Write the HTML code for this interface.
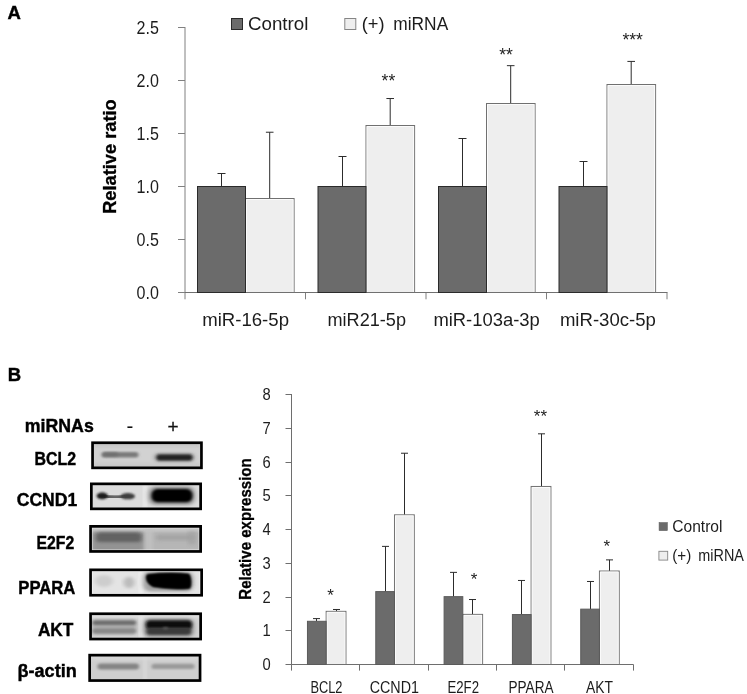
<!DOCTYPE html>
<html><head><meta charset="utf-8"><title>Figure</title>
<style>
html,body{margin:0;padding:0;background:#fff;}
body{width:747px;height:694px;overflow:hidden;font-family:"Liberation Sans",sans-serif;}
#wrap{width:747px;height:694px;filter:grayscale(1);}
svg{display:block;}
svg text{font-family:"Liberation Sans",sans-serif;}
</style></head><body>
<div id="wrap">
<svg width="747" height="694" viewBox="0 0 747 694">
<rect width="747" height="694" fill="#fff"/>
<g stroke="#808080" stroke-width="1" fill="none">
<line x1="185.0" y1="27.0" x2="185.0" y2="299.3"/>
<line x1="178" y1="292.50" x2="185.0" y2="292.50"/>
<line x1="178" y1="239.50" x2="185.0" y2="239.50"/>
<line x1="178" y1="186.50" x2="185.0" y2="186.50"/>
<line x1="178" y1="133.50" x2="185.0" y2="133.50"/>
<line x1="178" y1="80.50" x2="185.0" y2="80.50"/>
<line x1="178" y1="27.50" x2="185.0" y2="27.50"/>
<line x1="305.5" y1="292.5" x2="305.5" y2="299.3"/>
<line x1="426.0" y1="292.5" x2="426.0" y2="299.3"/>
<line x1="546.5" y1="292.5" x2="546.5" y2="299.3"/>
<line x1="667.0" y1="292.5" x2="667.0" y2="299.3"/>
</g>
<line x1="185.0" y1="292.5" x2="667.5" y2="292.5" stroke="#707070" stroke-width="1"/>
<text x="158.9" y="298.6" font-size="17.5" text-anchor="end" font-weight="normal" fill="#1c1c1c" textLength="22.3" lengthAdjust="spacingAndGlyphs" >0.0</text>
<text x="158.9" y="245.6" font-size="17.5" text-anchor="end" font-weight="normal" fill="#1c1c1c" textLength="22.3" lengthAdjust="spacingAndGlyphs" >0.5</text>
<text x="158.9" y="192.6" font-size="17.5" text-anchor="end" font-weight="normal" fill="#1c1c1c" textLength="22.3" lengthAdjust="spacingAndGlyphs" >1.0</text>
<text x="158.9" y="139.6" font-size="17.5" text-anchor="end" font-weight="normal" fill="#1c1c1c" textLength="22.3" lengthAdjust="spacingAndGlyphs" >1.5</text>
<text x="158.9" y="86.6" font-size="17.5" text-anchor="end" font-weight="normal" fill="#1c1c1c" textLength="22.3" lengthAdjust="spacingAndGlyphs" >2.0</text>
<text x="158.9" y="33.6" font-size="17.5" text-anchor="end" font-weight="normal" fill="#1c1c1c" textLength="22.3" lengthAdjust="spacingAndGlyphs" >2.5</text>
<path d="M221.50 186.50V173.50M217.50 173.50H225.50" stroke="#2c2c2c" stroke-width="1" fill="none"/>
<path d="M269.70 198.48V132.23M265.90 132.23H273.50" stroke="#2c2c2c" stroke-width="1" fill="none"/>
<rect x="245.50" y="198.50" width="48.60" height="94.00" fill="#eeeeee" stroke="#707070" stroke-width="1"/>
<path d="M246.50 292.00V199.50H293.10V292.00" fill="none" stroke="#fff" stroke-opacity="0.75" stroke-width="1"/>
<rect x="197.50" y="186.50" width="48.00" height="106.00" fill="#6b6b6b" stroke="#2a2a2a" stroke-width="1"/>
<path d="M342.50 186.50V156.50M338.50 156.50H346.50" stroke="#2c2c2c" stroke-width="1" fill="none"/>
<path d="M390.20 125.55V98.52M386.40 98.52H394.00" stroke="#2c2c2c" stroke-width="1" fill="none"/>
<rect x="366.00" y="125.50" width="48.60" height="167.00" fill="#eeeeee" stroke="#707070" stroke-width="1"/>
<path d="M367.00 292.00V126.50H413.60V292.00" fill="none" stroke="#fff" stroke-opacity="0.75" stroke-width="1"/>
<rect x="318.00" y="186.50" width="48.00" height="106.00" fill="#6b6b6b" stroke="#2a2a2a" stroke-width="1"/>
<path d="M462.50 186.50V138.50M458.50 138.50H466.50" stroke="#2c2c2c" stroke-width="1" fill="none"/>
<path d="M510.70 103.50V65.66M506.90 65.66H514.50" stroke="#2c2c2c" stroke-width="1" fill="none"/>
<rect x="486.50" y="103.50" width="48.60" height="189.00" fill="#eeeeee" stroke="#707070" stroke-width="1"/>
<path d="M487.50 292.00V104.50H534.10V292.00" fill="none" stroke="#fff" stroke-opacity="0.75" stroke-width="1"/>
<rect x="438.50" y="186.50" width="48.00" height="106.00" fill="#6b6b6b" stroke="#2a2a2a" stroke-width="1"/>
<path d="M583.50 186.50V161.50M579.50 161.50H587.50" stroke="#2c2c2c" stroke-width="1" fill="none"/>
<path d="M631.20 84.21V61.42M627.40 61.42H635.00" stroke="#2c2c2c" stroke-width="1" fill="none"/>
<rect x="607.00" y="84.50" width="48.60" height="208.00" fill="#eeeeee" stroke="#707070" stroke-width="1"/>
<path d="M608.00 292.00V85.50H654.60V292.00" fill="none" stroke="#fff" stroke-opacity="0.75" stroke-width="1"/>
<rect x="559.00" y="186.50" width="48.00" height="106.00" fill="#6b6b6b" stroke="#2a2a2a" stroke-width="1"/>
<text x="202.2" y="325.6" font-size="17.5" text-anchor="start" font-weight="normal" fill="#1c1c1c" textLength="86.8" lengthAdjust="spacingAndGlyphs" >miR-16-5p</text>
<text x="327.5" y="325.6" font-size="17.5" text-anchor="start" font-weight="normal" fill="#1c1c1c" textLength="78.5" lengthAdjust="spacingAndGlyphs" >miR21-5p</text>
<text x="433.4" y="325.6" font-size="17.5" text-anchor="start" font-weight="normal" fill="#1c1c1c" textLength="106.4" lengthAdjust="spacingAndGlyphs" >miR-103a-3p</text>
<text x="559.9" y="325.6" font-size="17.5" text-anchor="start" font-weight="normal" fill="#1c1c1c" textLength="96.0" lengthAdjust="spacingAndGlyphs" >miR-30c-5p</text>
<rect x="231.5" y="18.5" width="11" height="11" fill="#6b6b6b" stroke="#2a2a2a" stroke-width="1"/>
<text x="248" y="30.3" font-size="18" text-anchor="start" font-weight="normal" fill="#1c1c1c" textLength="60.4" lengthAdjust="spacingAndGlyphs" >Control</text>
<rect x="344.8" y="18.5" width="11" height="11" fill="#eeeeee" stroke="#858585" stroke-width="1"/>
<text x="361.8" y="30.3" font-size="18" text-anchor="start" font-weight="normal" fill="#1c1c1c" textLength="22.8" lengthAdjust="spacingAndGlyphs" >(+)</text>
<text x="393.3" y="30.3" font-size="18" text-anchor="start" font-weight="normal" fill="#1c1c1c" textLength="54.9" lengthAdjust="spacingAndGlyphs" >miRNA</text>
<text x="388.4" y="87.12" font-size="17.5" text-anchor="middle" font-weight="normal" fill="#222" >**</text>
<text x="506" y="61.42" font-size="17.5" text-anchor="middle" font-weight="normal" fill="#222" >**</text>
<text x="632.6" y="46.23" font-size="17.5" text-anchor="middle" font-weight="normal" fill="#222" >***</text>
<text x="7.6" y="18.9" font-size="18.5" text-anchor="start" font-weight="bold" fill="#000" stroke="#000" stroke-width="0.4">A</text>
<text x="7.8" y="381.3" font-size="18.5" text-anchor="start" font-weight="bold" fill="#000" stroke="#000" stroke-width="0.4">B</text>
<text transform="translate(116.4,156.6) rotate(-90)" font-size="17.5" font-weight="bold" text-anchor="middle" fill="#000" stroke="#000" stroke-width="0.3" textLength="114.5" lengthAdjust="spacingAndGlyphs">Relative ratio</text>
<g stroke="#6e6e6e" stroke-width="1" fill="none">
<line x1="291.5" y1="394.0" x2="291.5" y2="670.6"/>
<line x1="291.5" y1="664.5" x2="633.5" y2="664.5"/>
<line x1="285.5" y1="664.50" x2="291.5" y2="664.50"/>
<line x1="285.5" y1="630.50" x2="291.5" y2="630.50"/>
<line x1="285.5" y1="597.50" x2="291.5" y2="597.50"/>
<line x1="285.5" y1="563.50" x2="291.5" y2="563.50"/>
<line x1="285.5" y1="529.50" x2="291.5" y2="529.50"/>
<line x1="285.5" y1="495.50" x2="291.5" y2="495.50"/>
<line x1="285.5" y1="462.50" x2="291.5" y2="462.50"/>
<line x1="285.5" y1="428.50" x2="291.5" y2="428.50"/>
<line x1="285.5" y1="394.50" x2="291.5" y2="394.50"/>
<line x1="359.50" y1="664.5" x2="359.50" y2="670.6"/>
<line x1="428.50" y1="664.5" x2="428.50" y2="670.6"/>
<line x1="496.50" y1="664.5" x2="496.50" y2="670.6"/>
<line x1="564.50" y1="664.5" x2="564.50" y2="670.6"/>
<line x1="633.50" y1="664.5" x2="633.50" y2="670.6"/>
</g>
<text x="270.8" y="670.1" font-size="16" text-anchor="end" font-weight="normal" fill="#1c1c1c" textLength="8.2" lengthAdjust="spacingAndGlyphs" >0</text>
<text x="270.8" y="636.35" font-size="16" text-anchor="end" font-weight="normal" fill="#1c1c1c" textLength="8.2" lengthAdjust="spacingAndGlyphs" >1</text>
<text x="270.8" y="602.6" font-size="16" text-anchor="end" font-weight="normal" fill="#1c1c1c" textLength="8.2" lengthAdjust="spacingAndGlyphs" >2</text>
<text x="270.8" y="568.85" font-size="16" text-anchor="end" font-weight="normal" fill="#1c1c1c" textLength="8.2" lengthAdjust="spacingAndGlyphs" >3</text>
<text x="270.8" y="535.1" font-size="16" text-anchor="end" font-weight="normal" fill="#1c1c1c" textLength="8.2" lengthAdjust="spacingAndGlyphs" >4</text>
<text x="270.8" y="501.35" font-size="16" text-anchor="end" font-weight="normal" fill="#1c1c1c" textLength="8.2" lengthAdjust="spacingAndGlyphs" >5</text>
<text x="270.8" y="467.6" font-size="16" text-anchor="end" font-weight="normal" fill="#1c1c1c" textLength="8.2" lengthAdjust="spacingAndGlyphs" >6</text>
<text x="270.8" y="433.85" font-size="16" text-anchor="end" font-weight="normal" fill="#1c1c1c" textLength="8.2" lengthAdjust="spacingAndGlyphs" >7</text>
<text x="270.8" y="400.1" font-size="16" text-anchor="end" font-weight="normal" fill="#1c1c1c" textLength="8.2" lengthAdjust="spacingAndGlyphs" >8</text>
<path d="M316.50 621.30V618.60M313.00 618.60H320.00" stroke="#2c2c2c" stroke-width="1" fill="none"/>
<path d="M336.50 611.34V609.49M333.00 609.49H340.00" stroke="#2c2c2c" stroke-width="1" fill="none"/>
<rect x="326.16" y="611.34" width="19.80" height="53.16" fill="#eeeeee" stroke="#707070" stroke-width="1"/>
<path d="M327.16 664.00V612.34H344.96V664.00" fill="none" stroke="#fff" stroke-opacity="0.75" stroke-width="1"/>
<rect x="307.46" y="621.30" width="18.70" height="43.20" fill="#6b6b6b" stroke="#5a5a5a" stroke-width="1"/>
<path d="M385.50 591.60V546.38M382.00 546.38H389.00" stroke="#2c2c2c" stroke-width="1" fill="none"/>
<path d="M404.50 514.82V453.23M401.00 453.23H408.00" stroke="#2c2c2c" stroke-width="1" fill="none"/>
<rect x="394.48" y="514.82" width="19.80" height="149.68" fill="#eeeeee" stroke="#707070" stroke-width="1"/>
<path d="M395.48 664.00V515.82H413.28V664.00" fill="none" stroke="#fff" stroke-opacity="0.75" stroke-width="1"/>
<rect x="375.78" y="591.60" width="18.70" height="72.90" fill="#6b6b6b" stroke="#5a5a5a" stroke-width="1"/>
<path d="M453.50 596.66V572.36M450.00 572.36H457.00" stroke="#2c2c2c" stroke-width="1" fill="none"/>
<path d="M472.50 614.38V599.53M469.00 599.53H476.00" stroke="#2c2c2c" stroke-width="1" fill="none"/>
<rect x="462.80" y="614.38" width="19.80" height="50.12" fill="#eeeeee" stroke="#707070" stroke-width="1"/>
<path d="M463.80 664.00V615.38H481.60V664.00" fill="none" stroke="#fff" stroke-opacity="0.75" stroke-width="1"/>
<rect x="444.10" y="596.66" width="18.70" height="67.84" fill="#6b6b6b" stroke="#5a5a5a" stroke-width="1"/>
<path d="M521.50 614.55V580.46M518.00 580.46H525.00" stroke="#2c2c2c" stroke-width="1" fill="none"/>
<path d="M541.50 486.47V433.82M538.00 433.82H545.00" stroke="#2c2c2c" stroke-width="1" fill="none"/>
<rect x="531.12" y="486.47" width="19.80" height="178.03" fill="#eeeeee" stroke="#707070" stroke-width="1"/>
<path d="M532.12 664.00V487.47H549.92V664.00" fill="none" stroke="#fff" stroke-opacity="0.75" stroke-width="1"/>
<rect x="512.42" y="614.55" width="18.70" height="49.95" fill="#6b6b6b" stroke="#5a5a5a" stroke-width="1"/>
<path d="M590.50 609.15V581.48M587.00 581.48H594.00" stroke="#2c2c2c" stroke-width="1" fill="none"/>
<path d="M609.50 571.01V559.88M606.00 559.88H613.00" stroke="#2c2c2c" stroke-width="1" fill="none"/>
<rect x="599.44" y="571.01" width="19.80" height="93.49" fill="#eeeeee" stroke="#707070" stroke-width="1"/>
<path d="M600.44 664.00V572.01H618.24V664.00" fill="none" stroke="#fff" stroke-opacity="0.75" stroke-width="1"/>
<rect x="580.74" y="609.15" width="18.70" height="55.35" fill="#6b6b6b" stroke="#5a5a5a" stroke-width="1"/>
<text x="310.4" y="692.8" font-size="16.5" text-anchor="start" font-weight="normal" fill="#1c1c1c" textLength="32.1" lengthAdjust="spacingAndGlyphs" >BCL2</text>
<text x="369.7" y="692.8" font-size="16.5" text-anchor="start" font-weight="normal" fill="#1c1c1c" textLength="49.3" lengthAdjust="spacingAndGlyphs" >CCND1</text>
<text x="447.5" y="692.8" font-size="16.5" text-anchor="start" font-weight="normal" fill="#1c1c1c" textLength="31.5" lengthAdjust="spacingAndGlyphs" >E2F2</text>
<text x="508.5" y="692.8" font-size="16.5" text-anchor="start" font-weight="normal" fill="#1c1c1c" textLength="45.0" lengthAdjust="spacingAndGlyphs" >PPARA</text>
<text x="586" y="692.8" font-size="16.5" text-anchor="start" font-weight="normal" fill="#1c1c1c" textLength="27" lengthAdjust="spacingAndGlyphs" >AKT</text>
<text x="330.5" y="601.31" font-size="17" text-anchor="middle" font-weight="normal" fill="#222" >*</text>
<text x="474" y="584.51" font-size="17" text-anchor="middle" font-weight="normal" fill="#222" >*</text>
<text x="540.4" y="421.61" font-size="17" text-anchor="middle" font-weight="normal" fill="#222" >**</text>
<text x="606.8" y="552.11" font-size="17" text-anchor="middle" font-weight="normal" fill="#222" >*</text>
<rect x="659.1" y="522.6" width="8.2" height="8.0" fill="#6b6b6b" stroke="#606060" stroke-width="0.6"/>
<text x="672.3" y="531.6" font-size="16.5" text-anchor="start" font-weight="normal" fill="#1c1c1c" textLength="50.2" lengthAdjust="spacingAndGlyphs" >Control</text>
<rect x="658.9" y="551.3" width="8.8" height="8.8" fill="#eeeeee" stroke="#858585" stroke-width="0.9"/>
<text x="672.3" y="560.8" font-size="16.5" text-anchor="start" font-weight="normal" fill="#1c1c1c" textLength="19" lengthAdjust="spacingAndGlyphs" >(+)</text>
<text x="698.3" y="560.8" font-size="16.5" text-anchor="start" font-weight="normal" fill="#1c1c1c" textLength="45.6" lengthAdjust="spacingAndGlyphs" >miRNA</text>
<text transform="translate(250.8,529) rotate(-90)" font-size="16" font-weight="bold" text-anchor="middle" fill="#000" stroke="#000" stroke-width="0.3" textLength="141.5" lengthAdjust="spacingAndGlyphs">Relative expression</text>
<text x="24.8" y="432.2" font-size="17.8" text-anchor="start" font-weight="bold" fill="#000" textLength="69" lengthAdjust="spacingAndGlyphs" stroke="#000" stroke-width="0.4">miRNAs</text>
<text x="130" y="432.6" font-size="20.5" text-anchor="middle" font-weight="normal" fill="#111" >-</text>
<text x="173" y="433.1" font-size="19" text-anchor="middle" font-weight="normal" fill="#111" stroke="#111" stroke-width="0.25">+</text>
<text x="34.5" y="464.8" font-size="17.5" text-anchor="start" font-weight="bold" fill="#000" textLength="41.5" lengthAdjust="spacingAndGlyphs" stroke="#000" stroke-width="0.4">BCL2</text>
<text x="16.8" y="506" font-size="17.5" text-anchor="start" font-weight="bold" fill="#000" textLength="60.4" lengthAdjust="spacingAndGlyphs" stroke="#000" stroke-width="0.4">CCND1</text>
<text x="36.5" y="548.7" font-size="17.5" text-anchor="start" font-weight="bold" fill="#000" textLength="37.7" lengthAdjust="spacingAndGlyphs" stroke="#000" stroke-width="0.4">E2F2</text>
<text x="18.3" y="593.9" font-size="17.5" text-anchor="start" font-weight="bold" fill="#000" textLength="57.1" lengthAdjust="spacingAndGlyphs" stroke="#000" stroke-width="0.4">PPARA</text>
<text x="37.9" y="635.8" font-size="17.5" text-anchor="start" font-weight="bold" fill="#000" textLength="35.5" lengthAdjust="spacingAndGlyphs" stroke="#000" stroke-width="0.4">AKT</text>
<text x="17.5" y="676.9" font-size="17.5" text-anchor="start" font-weight="bold" fill="#000" textLength="59.2" lengthAdjust="spacingAndGlyphs" stroke="#000" stroke-width="0.4">β-actin</text>
<defs>
<filter id="b0" x="-20%" y="-60%" width="140%" height="220%"><feGaussianBlur stdDeviation="1.0 0.9"/></filter>
<filter id="b1" x="-20%" y="-60%" width="140%" height="220%"><feGaussianBlur stdDeviation="1.5 1.2"/></filter>
<filter id="b2" x="-20%" y="-60%" width="140%" height="220%"><feGaussianBlur stdDeviation="2.2 1.6"/></filter>
<filter id="b3" x="-30%" y="-80%" width="160%" height="260%"><feGaussianBlur stdDeviation="3 2.4"/></filter>
<filter id="bb" x="-5%" y="-10%" width="110%" height="120%"><feGaussianBlur stdDeviation="0.45"/></filter>
</defs>
<clipPath id="c_bcl2"><rect x="93.30" y="443.50" width="107.40" height="23.60"/></clipPath>
<rect x="93.30" y="443.50" width="107.40" height="23.60" fill="#d2d2d2"/>
<g clip-path="url(#c_bcl2)">
<rect x="93" y="443" width="108.00" height="4.00" rx="0" fill="#c4c4c4" opacity="0.8" filter="url(#b2)"/>
<rect x="93" y="463" width="108.00" height="5.00" rx="0" fill="#c6c6c6" opacity="0.8" filter="url(#b2)"/>
<rect x="101.5" y="452.0" width="37.00" height="5.60" rx="2.8" fill="#7a7a7a" opacity="1" filter="url(#b1)"/>
<rect x="103" y="452.2" width="15.00" height="4.30" rx="2" fill="#6c6c6c" opacity="0.7" filter="url(#b1)"/>
<rect x="154.5" y="453.2" width="39.50" height="8.40" rx="4" fill="#6a6a6a" opacity="0.55" filter="url(#b2)"/>
<rect x="156.5" y="454.6" width="36.00" height="5.80" rx="2.9" fill="#242424" opacity="1" filter="url(#b1)"/>
</g>
<rect x="92.55" y="442.75" width="108.90" height="25.10" fill="none" stroke="#000" stroke-width="2.7" filter="url(#bb)"/>
<clipPath id="c_ccnd1"><rect x="92.10" y="484.60" width="107.80" height="23.50"/></clipPath>
<rect x="92.10" y="484.60" width="107.80" height="23.50" fill="#dcdcdc"/>
<g clip-path="url(#c_ccnd1)">
<rect x="143" y="485" width="4.00" height="23.00" rx="0" fill="#ececec" opacity="0.8" filter="url(#b1)"/>
<path d="M101 496 Q114 498.2 128 496.2" fill="none" opacity="1" filter="url(#b0)" stroke="#484848" stroke-width="3.4" stroke-linecap="round"/>
<ellipse cx="102.2" cy="495.9" rx="5.6" ry="3.4" fill="#1e1e1e" opacity="1" filter="url(#b0)"/>
<ellipse cx="127.8" cy="496.2" rx="7.2" ry="3.1" fill="#3c3c3c" opacity="1" filter="url(#b0)"/>
<rect x="148.5" y="486.5" width="46.50" height="18.50" rx="7" fill="#666" opacity="0.6" filter="url(#b2)"/>
<rect x="151.5" y="489.0" width="41.00" height="13.20" rx="6" fill="#000" opacity="1" filter="url(#b1)"/>
</g>
<rect x="91.35" y="483.85" width="109.30" height="25.00" fill="none" stroke="#000" stroke-width="2.7" filter="url(#bb)"/>
<clipPath id="c_e2f2"><rect x="91.30" y="527.10" width="108.60" height="23.60"/></clipPath>
<rect x="91.30" y="527.10" width="108.60" height="23.60" fill="#b6b6b6"/>
<g clip-path="url(#c_e2f2)">
<rect x="91" y="527" width="110.00" height="4.50" rx="0" fill="#c9c9c9" opacity="0.9" filter="url(#b1)"/>
<rect x="92" y="532" width="52.00" height="20.00" rx="3" fill="#8e8e8e" opacity="0.85" filter="url(#b2)"/>
<rect x="96" y="532.6" width="45.50" height="9.40" rx="3.5" fill="#5e5e5e" opacity="0.95" filter="url(#b2)"/>
<rect x="145" y="527" width="8.00" height="25.00" rx="0" fill="#c2c2c2" opacity="0.8" filter="url(#b2)"/>
<rect x="156" y="534.5" width="39.00" height="6.00" rx="3" fill="#a3a3a3" opacity="0.9" filter="url(#b2)"/>
<rect x="188" y="531" width="8.00" height="14.00" rx="3" fill="#a0a0a0" opacity="0.6" filter="url(#b2)"/>
</g>
<rect x="92.20" y="528.00" width="106.80" height="21.80" fill="none" stroke="#fff" stroke-opacity="0.55" stroke-width="0.9" filter="url(#bb)"/>
<rect x="90.55" y="526.35" width="110.10" height="25.10" fill="none" stroke="#000" stroke-width="2.7" filter="url(#bb)"/>
<clipPath id="c_ppara"><rect x="91.30" y="570.60" width="109.60" height="23.90"/></clipPath>
<rect x="91.30" y="570.60" width="109.60" height="23.90" fill="#e4e4e4"/>
<g clip-path="url(#c_ppara)">
<ellipse cx="104" cy="581" rx="9" ry="6" fill="#cdcdcd" opacity="1" filter="url(#b2)"/>
<ellipse cx="129" cy="582.5" rx="5.5" ry="5.8" fill="#bcbcbc" opacity="1" filter="url(#b2)"/>
<rect x="139" y="571" width="4.00" height="24.00" rx="0" fill="#f0f0f0" opacity="0.8" filter="url(#b1)"/>
<rect x="143" y="571.5" width="50.50" height="20.00" rx="7" fill="#777" opacity="0.6" filter="url(#b2)"/>
<path d="M147 574.8 Q168 572.2 189 574.2 Q192.2 581.5 189.8 588.2 Q170 589.8 153 586.6 Q144.8 582 147 574.8Z" fill="#000" opacity="1" filter="url(#b1)"/>
<path d="M147 574.8 Q168 572.2 189 574.2 Q192.2 581.5 189.8 588.2 Q170 589.8 153 586.6 Q144.8 582 147 574.8Z" fill="#000" opacity="1" filter="url(#b0)"/>
</g>
<rect x="92.20" y="571.50" width="107.80" height="22.10" fill="none" stroke="#fff" stroke-opacity="0.55" stroke-width="0.9" filter="url(#bb)"/>
<rect x="90.55" y="569.85" width="111.10" height="25.40" fill="none" stroke="#000" stroke-width="2.7" filter="url(#bb)"/>
<clipPath id="c_akt"><rect x="91.30" y="614.50" width="108.60" height="23.80"/></clipPath>
<rect x="91.30" y="614.50" width="108.60" height="23.80" fill="#d4d4d4"/>
<g clip-path="url(#c_akt)">
<rect x="91" y="614.5" width="110.00" height="3.50" rx="0" fill="#e2e2e2" opacity="0.8" filter="url(#b1)"/>
<rect x="92" y="619.5" width="44.50" height="15.00" rx="3" fill="#a6a6a6" opacity="0.8" filter="url(#b2)"/>
<rect x="92.5" y="620.6" width="43.50" height="4.40" rx="2.2" fill="#6a6a6a" opacity="0.95" filter="url(#b1)"/>
<rect x="92.5" y="628.6" width="43.50" height="4.80" rx="2.4" fill="#858585" opacity="0.95" filter="url(#b1)"/>
<rect x="139" y="615" width="4.50" height="23.00" rx="0" fill="#e6e6e6" opacity="0.8" filter="url(#b1)"/>
<rect x="143.5" y="618.5" width="50.50" height="18.50" rx="6" fill="#666" opacity="0.6" filter="url(#b2)"/>
<rect x="146" y="620.6" width="46.00" height="8.60" rx="4" fill="#0c0c0c" opacity="1" filter="url(#b1)"/>
<rect x="146.5" y="627.5" width="44.50" height="7.30" rx="3.5" fill="#3a3a3a" opacity="1" filter="url(#b1)"/>
<ellipse cx="165.5" cy="628.2" rx="3" ry="1.2" fill="#5a5a5a" opacity="0.9" filter="url(#b0)"/>
</g>
<rect x="90.55" y="613.75" width="110.10" height="25.30" fill="none" stroke="#000" stroke-width="2.7" filter="url(#bb)"/>
<clipPath id="c_actin"><rect x="90.40" y="655.90" width="108.90" height="23.90"/></clipPath>
<rect x="90.40" y="655.90" width="108.90" height="23.90" fill="#cecece"/>
<g clip-path="url(#c_actin)">
<rect x="91" y="656" width="109.00" height="4.00" rx="0" fill="#dadada" opacity="0.8" filter="url(#b2)"/>
<rect x="97.5" y="663.6" width="41.50" height="5.80" rx="2.9" fill="#858585" opacity="1" filter="url(#b1)"/>
<rect x="143" y="657" width="4.00" height="23.00" rx="0" fill="#dcdcdc" opacity="0.7" filter="url(#b1)"/>
<rect x="151.5" y="663.8" width="43.00" height="5.20" rx="2.6" fill="#9a9a9a" opacity="1" filter="url(#b1)"/>
</g>
<rect x="89.65" y="655.15" width="110.40" height="25.40" fill="none" stroke="#000" stroke-width="2.7" filter="url(#bb)"/>
</svg>
</div>
</body></html>
